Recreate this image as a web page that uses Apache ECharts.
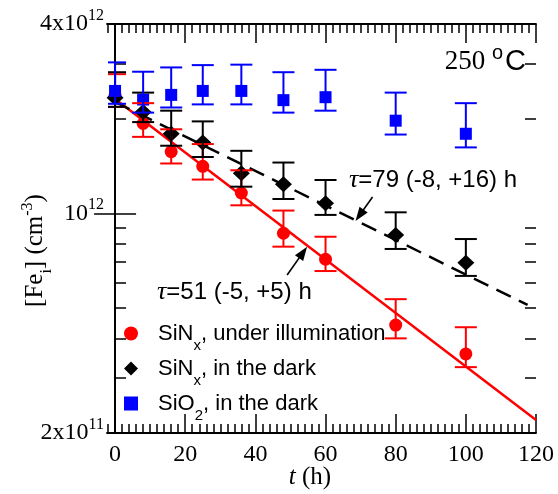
<!DOCTYPE html>
<html><head><meta charset="utf-8">
<script src="https://cdn.jsdelivr.net/npm/echarts@6/dist/echarts.min.js"></script>
<style>html,body{margin:0;padding:0;background:#fff;}#c{width:558px;height:494px;}</style>
</head><body><div id="c"></div>
<script>
// ---- data ----
const times = [0, 8, 16, 25, 36, 48, 60, 80, 100];

const redMid  = [2.36e12, 1.93e12, 1.57e12, 1.41e12, 1.16e12, 8.64e11, 7.14e11, 4.41e11, 3.57e11];
const redLow  = [2.18e12, 1.75e12, 1.44e12, 1.28e12, 1.06e12, 7.83e11, 6.55e11, 4.00e11, 3.24e11];
const redHigh = [2.77e12, 2.24e12, 1.85e12, 1.66e12, 1.37e12, 1.02e12, 8.42e11, 5.33e11, 4.34e11];

const blackMid  = [2.33e12, 2.10e12, 1.79e12, 1.68e12, 1.34e12, 1.236e12, 1.076e12, 8.53e11, 6.96e11];
const blackLow  = [2.18e12, 1.95e12, 1.64e12, 1.51e12, 1.215e12, 1.11e12, 9.88e11, 7.70e11, 6.32e11];
const blackHigh = [2.81e12, 2.42e12, 2.12e12, 1.96e12, 1.58e12, 1.45e12, 1.276e12, 1.007e12, 8.28e11];

const blueMid  = [2.45e12, 2.30e12, 2.38e12, 2.45e12, 2.45e12, 2.29e12, 2.34e12, 1.97e12, 1.79e12];
const blueLow  = [2.23e12, 2.09e12, 2.17e12, 2.22e12, 2.22e12, 2.09e12, 2.12e12, 1.78e12, 1.62e12];
const blueHigh = [3.02e12, 2.82e12, 2.91e12, 2.96e12, 2.97e12, 2.81e12, 2.86e12, 2.42e12, 2.24e12];

// exponential fits (straight on log axis): end points
const redFitT = [0, 120];
const redFitV = [2.31e12, 2.2e11];
const blackFitT = [0, 117.6];
const blackFitV = [2.26e12, 5.11e11];

// annotation arrows [start, end]
const arrow79T = [73.4, 69.7];
const arrow79V = [1.127e12, 9.85e11];
const arrow51T = [49.05, 53.6];
const arrow51V = [6.36e11, 7.51e11];

// ticks and labels
const xMajorTicks = [0, 20, 40, 60, 80, 100, 120];
const xMinorTicks = [-2, 2, 4, 6, 8, 10, 12, 14, 16, 18, 22, 24, 26, 28, 30, 32, 34, 36, 38, 42, 44, 46, 48, 50, 52, 54, 56, 58, 62, 64, 66, 68, 70, 72, 74, 76, 78, 82, 84, 86, 88, 90, 92, 94, 96, 98, 102, 104, 106, 108, 110, 112, 114, 116, 118];
const yLabelValues = [2e11, 1e12, 4e12];
const yLabelMant = ['2x10', '10', '4x10'];
const yLabelExp = ['11', '12', '12'];
const yMajorTicks = [1e12];
const yMinorTicks = [3e11, 4e11, 5e11, 6e11, 7e11, 8e11, 9e11, 2e12, 3e12];

const seriesNames = ['SiNx, under illumination', 'SiNx, in the dark', 'SiO2, in the dark'];
const legendMain = ['SiN', 'SiN', 'SiO'];
const legendSub = ['x', 'x', '2'];
const legendRest = [', under illumination', ', in the dark', ', in the dark'];

// ---- chart ----
const SERIF = 'Liberation Serif';
const SANS = 'Liberation Sans';
const RED = '#ff0000', BLUE = '#0000ff', BLACK = '#000000';
const X_MIN = -2.3, X_MAX = 120, Y_MIN = 2e11, Y_MAX = 4e12;
const LY_MIN = Math.log10(Y_MIN), LY_MAX = Math.log10(Y_MAX);
const lg = a => a.map(v => Math.log10(v));

function pts(t, v) { return t.map((x, i) => [x, v[i]]); }
function errData(lo, hi) { return times.map((t, i) => [t, lo[i], hi[i]]); }
function errSeries(name, color, lo, hi) {
  return {
    type: 'custom', name: name, xAxisIndex: 0, yAxisIndex: 0, z: 5, clip: true,
    data: errData(lo, hi), encode: { x: 0, y: [1, 2] }, silent: true,
    renderItem: function (params, api) {
      const x = api.value(0);
      const a = api.coord([x, api.value(2)]);
      const b = api.coord([x, api.value(1)]);
      const hw = 11;
      const left = params.coordSys.x + 1;
      const xl = Math.max(a[0] - hw, left);
      const st = { stroke: color, lineWidth: 2 };
      return { type: 'group', children: [
        { type: 'line', shape: { x1: a[0], y1: a[1], x2: b[0], y2: b[1] }, style: st },
        { type: 'line', shape: { x1: xl, y1: a[1], x2: a[0] + hw, y2: a[1] }, style: st },
        { type: 'line', shape: { x1: xl, y1: b[1], x2: b[0] + hw, y2: b[1] }, style: st }
      ]};
    }
  };
}
function arrowLine(T, V) {
  return {
    silent: true, symbol: ['none', 'triangle'], symbolSize: [10, 14],
    label: { show: false },
    lineStyle: { type: 'solid', color: BLACK, width: 1.6 },
    itemStyle: { color: BLACK },
    emphasis: { disabled: true },
    data: [[{ coord: [T[0], V[0]] }, { coord: [T[1], V[1]] }]]
  };
}
function xAxisDef(pos, ticks, len, labels, extra) {
  return Object.assign({
    type: 'value', position: pos, min: X_MIN, max: X_MAX,
    axisLine: { show: true, lineStyle: { color: BLACK, width: 1.8 } },
    axisTick: { show: true, inside: true, length: len, customValues: ticks, lineStyle: { color: BLACK, width: 1.5 } },
    axisLabel: labels ? { show: true, customValues: xMajorTicks, margin: 10, color: BLACK, fontFamily: SERIF, fontSize: 24 } : { show: false },
    splitLine: { show: false }
  }, extra || {});
}
// tick/label axes in log10 space (same pixel mapping as the log data axis)
function yTickAxisDef(pos, ticks, len, labels, extra) {
  return Object.assign({
    type: 'value', position: pos, min: LY_MIN, max: LY_MAX,
    axisLine: { show: false },
    axisTick: { show: true, inside: true, length: len, customValues: lg(ticks), lineStyle: { color: BLACK, width: 1.5 } },
    axisLabel: labels ? {
      show: true, customValues: lg(yLabelValues), margin: 3, color: BLACK,
      formatter: function (v) {
        const i = yLabelValues.findIndex(u => Math.abs(Math.log10(u) - v) < 1e-6);
        return i < 0 ? '' : '{b|' + yLabelMant[i] + '}{p|' + yLabelExp[i] + '}';
      },
      rich: {
        b: { fontFamily: SERIF, fontSize: 24, lineHeight: 28, color: BLACK },
        p: { fontFamily: SERIF, fontSize: 16, lineHeight: 16, padding: [0, 0, 16, 0], color: BLACK }
      }
    } : { show: false },
    splitLine: { show: false }
  }, extra || {});
}

const chart = echarts.init(document.getElementById('c'), null, { renderer: 'canvas' });
chart.setOption({
  animation: false,
  backgroundColor: '#ffffff',
  grid: { left: 107, right: 22, top: 24, bottom: 61, containLabel: false, outerBoundsMode: 'none' },
  xAxis: [
    xAxisDef('bottom', xMajorTicks, 19, true, {
      name: '{i|t}{n| (h)}', nameLocation: 'middle', nameGap: 29, nameMoveOverlap: false,
      nameTextStyle: { padding: [0, 23, 0, 0], rich: {
        i: { fontFamily: SERIF, fontStyle: 'italic', fontSize: 25, color: BLACK, lineHeight: 30 },
        n: { fontFamily: SERIF, fontSize: 25, color: BLACK, lineHeight: 30 } } }
    }),
    xAxisDef('bottom', xMinorTicks, 9, false, { axisLine: { show: false } }),
    xAxisDef('top', xMajorTicks, 19, false),
    xAxisDef('top', xMinorTicks, 9, false, { axisLine: { show: false } })
  ],
  yAxis: [
    { type: 'log', logBase: 10, position: 'left', min: Y_MIN, max: Y_MAX,
      axisLine: { show: true, lineStyle: { color: BLACK, width: 1.8 } },
      axisTick: { show: false }, axisLabel: { show: false }, splitLine: { show: false },
      minorTick: { show: false }, minorSplitLine: { show: false } },
    yTickAxisDef('left', yMajorTicks, 21, true, {
      name: '{n|[Fe}{s|i}{n|] (cm}{p|-3}{n|)}', nameLocation: 'middle', nameGap: 57, nameRotate: 90,
      nameMoveOverlap: false,
      nameTextStyle: { padding: [0, 44, 0, 0], rich: {
        n: { fontFamily: SERIF, fontSize: 25, color: BLACK, lineHeight: 30 },
        s: { fontFamily: SERIF, fontSize: 16, color: BLACK, lineHeight: 16, padding: [24, 0, 0, 0] },
        p: { fontFamily: SERIF, fontSize: 16, color: BLACK, lineHeight: 16, padding: [0, 0, 14, 0] } } }
    }),
    yTickAxisDef('left', yMinorTicks, 11, false),
    yTickAxisDef('right', yMajorTicks, 21, false, { axisLine: { show: true, lineStyle: { color: BLACK, width: 1.8 } } }),
    yTickAxisDef('right', yMinorTicks, 11, false)
  ],
  legend: {
    orient: 'vertical', left: 119, top: 309, itemWidth: 14, itemHeight: 14, itemGap: -4,
    selectedMode: false, data: seriesNames,
    formatter: function (name) {
      const i = seriesNames.indexOf(name);
      return '{a|' + legendMain[i] + '}{s|' + legendSub[i] + '}{a|' + legendRest[i] + '}';
    },
    textStyle: { padding: [0, 0, 0, 15], color: BLACK, rich: {
      a: { fontFamily: SANS, fontSize: 22, lineHeight: 26, color: BLACK },
      s: { fontFamily: SANS, fontSize: 15, lineHeight: 15, padding: [24, 0, 0, 0], color: BLACK } } }
  },
  series: [
    { type: 'line', name: 'fit51', data: pts(redFitT, redFitV), showSymbol: false, symbol: 'none', z: 2,
      lineStyle: { color: RED, width: 2.5 }, silent: true, markLine: arrowLine(arrow51T, arrow51V) },
    { type: 'line', name: 'fit79', data: pts(blackFitT, blackFitV), showSymbol: false, symbol: 'none', z: 2,
      lineStyle: { color: BLACK, width: 2.5, type: [16, 9] }, silent: true, markLine: arrowLine(arrow79T, arrow79V) },
    { type: 'scatter', name: seriesNames[0], data: pts(times, redMid), symbol: 'circle', symbolSize: 13, z: 3,
      itemStyle: { color: RED, opacity: 1 } },
    { type: 'scatter', name: seriesNames[1], data: pts(times, blackMid), symbol: 'diamond', symbolSize: [17, 16], z: 3,
      itemStyle: { color: BLACK, opacity: 1 } },
    { type: 'scatter', name: seriesNames[2], data: pts(times, blueMid), symbol: 'rect', symbolSize: 12, z: 3,
      itemStyle: { color: BLUE, opacity: 1 } },
    errSeries('errRed', RED, redLow, redHigh),
    errSeries('errBlack', BLACK, blackLow, blackHigh),
    errSeries('errBlue', BLUE, blueLow, blueHigh)
  ],
  graphic: [
    { type: 'text', x: 526, y: 62, z: 10, silent: true, style: {
      text: '{a|250 }{b|o}{c|C}', align: 'right', verticalAlign: 'middle',
      rich: {
        a: { fontFamily: SERIF, fontSize: 27, fill: BLACK, lineHeight: 30 },
        b: { fontFamily: SANS, fontSize: 20, fill: BLACK, lineHeight: 16, padding: [0, 2, 18, 0] },
        c: { fontFamily: SANS, fontSize: 29, fill: BLACK, lineHeight: 30 } } } },
    { type: 'text', x: 349, y: 180.5, z: 10, silent: true, style: {
      text: '{t|τ}{s|=79 (-8, +16) h}', align: 'left', verticalAlign: 'middle',
      rich: {
        t: { fontFamily: SERIF, fontStyle: 'italic', fontSize: 26, fill: BLACK, lineHeight: 28 },
        s: { fontFamily: SANS, fontSize: 24, fill: BLACK, lineHeight: 28 } } } },
    { type: 'text', x: 157, y: 292.5, z: 10, silent: true, style: {
      text: '{t|τ}{s|=51 (-5, +5) h}', align: 'left', verticalAlign: 'middle',
      rich: {
        t: { fontFamily: SERIF, fontStyle: 'italic', fontSize: 26, fill: BLACK, lineHeight: 28 },
        s: { fontFamily: SANS, fontSize: 24, fill: BLACK, lineHeight: 28 } } } }
  ]
});
</script>
</body></html>
